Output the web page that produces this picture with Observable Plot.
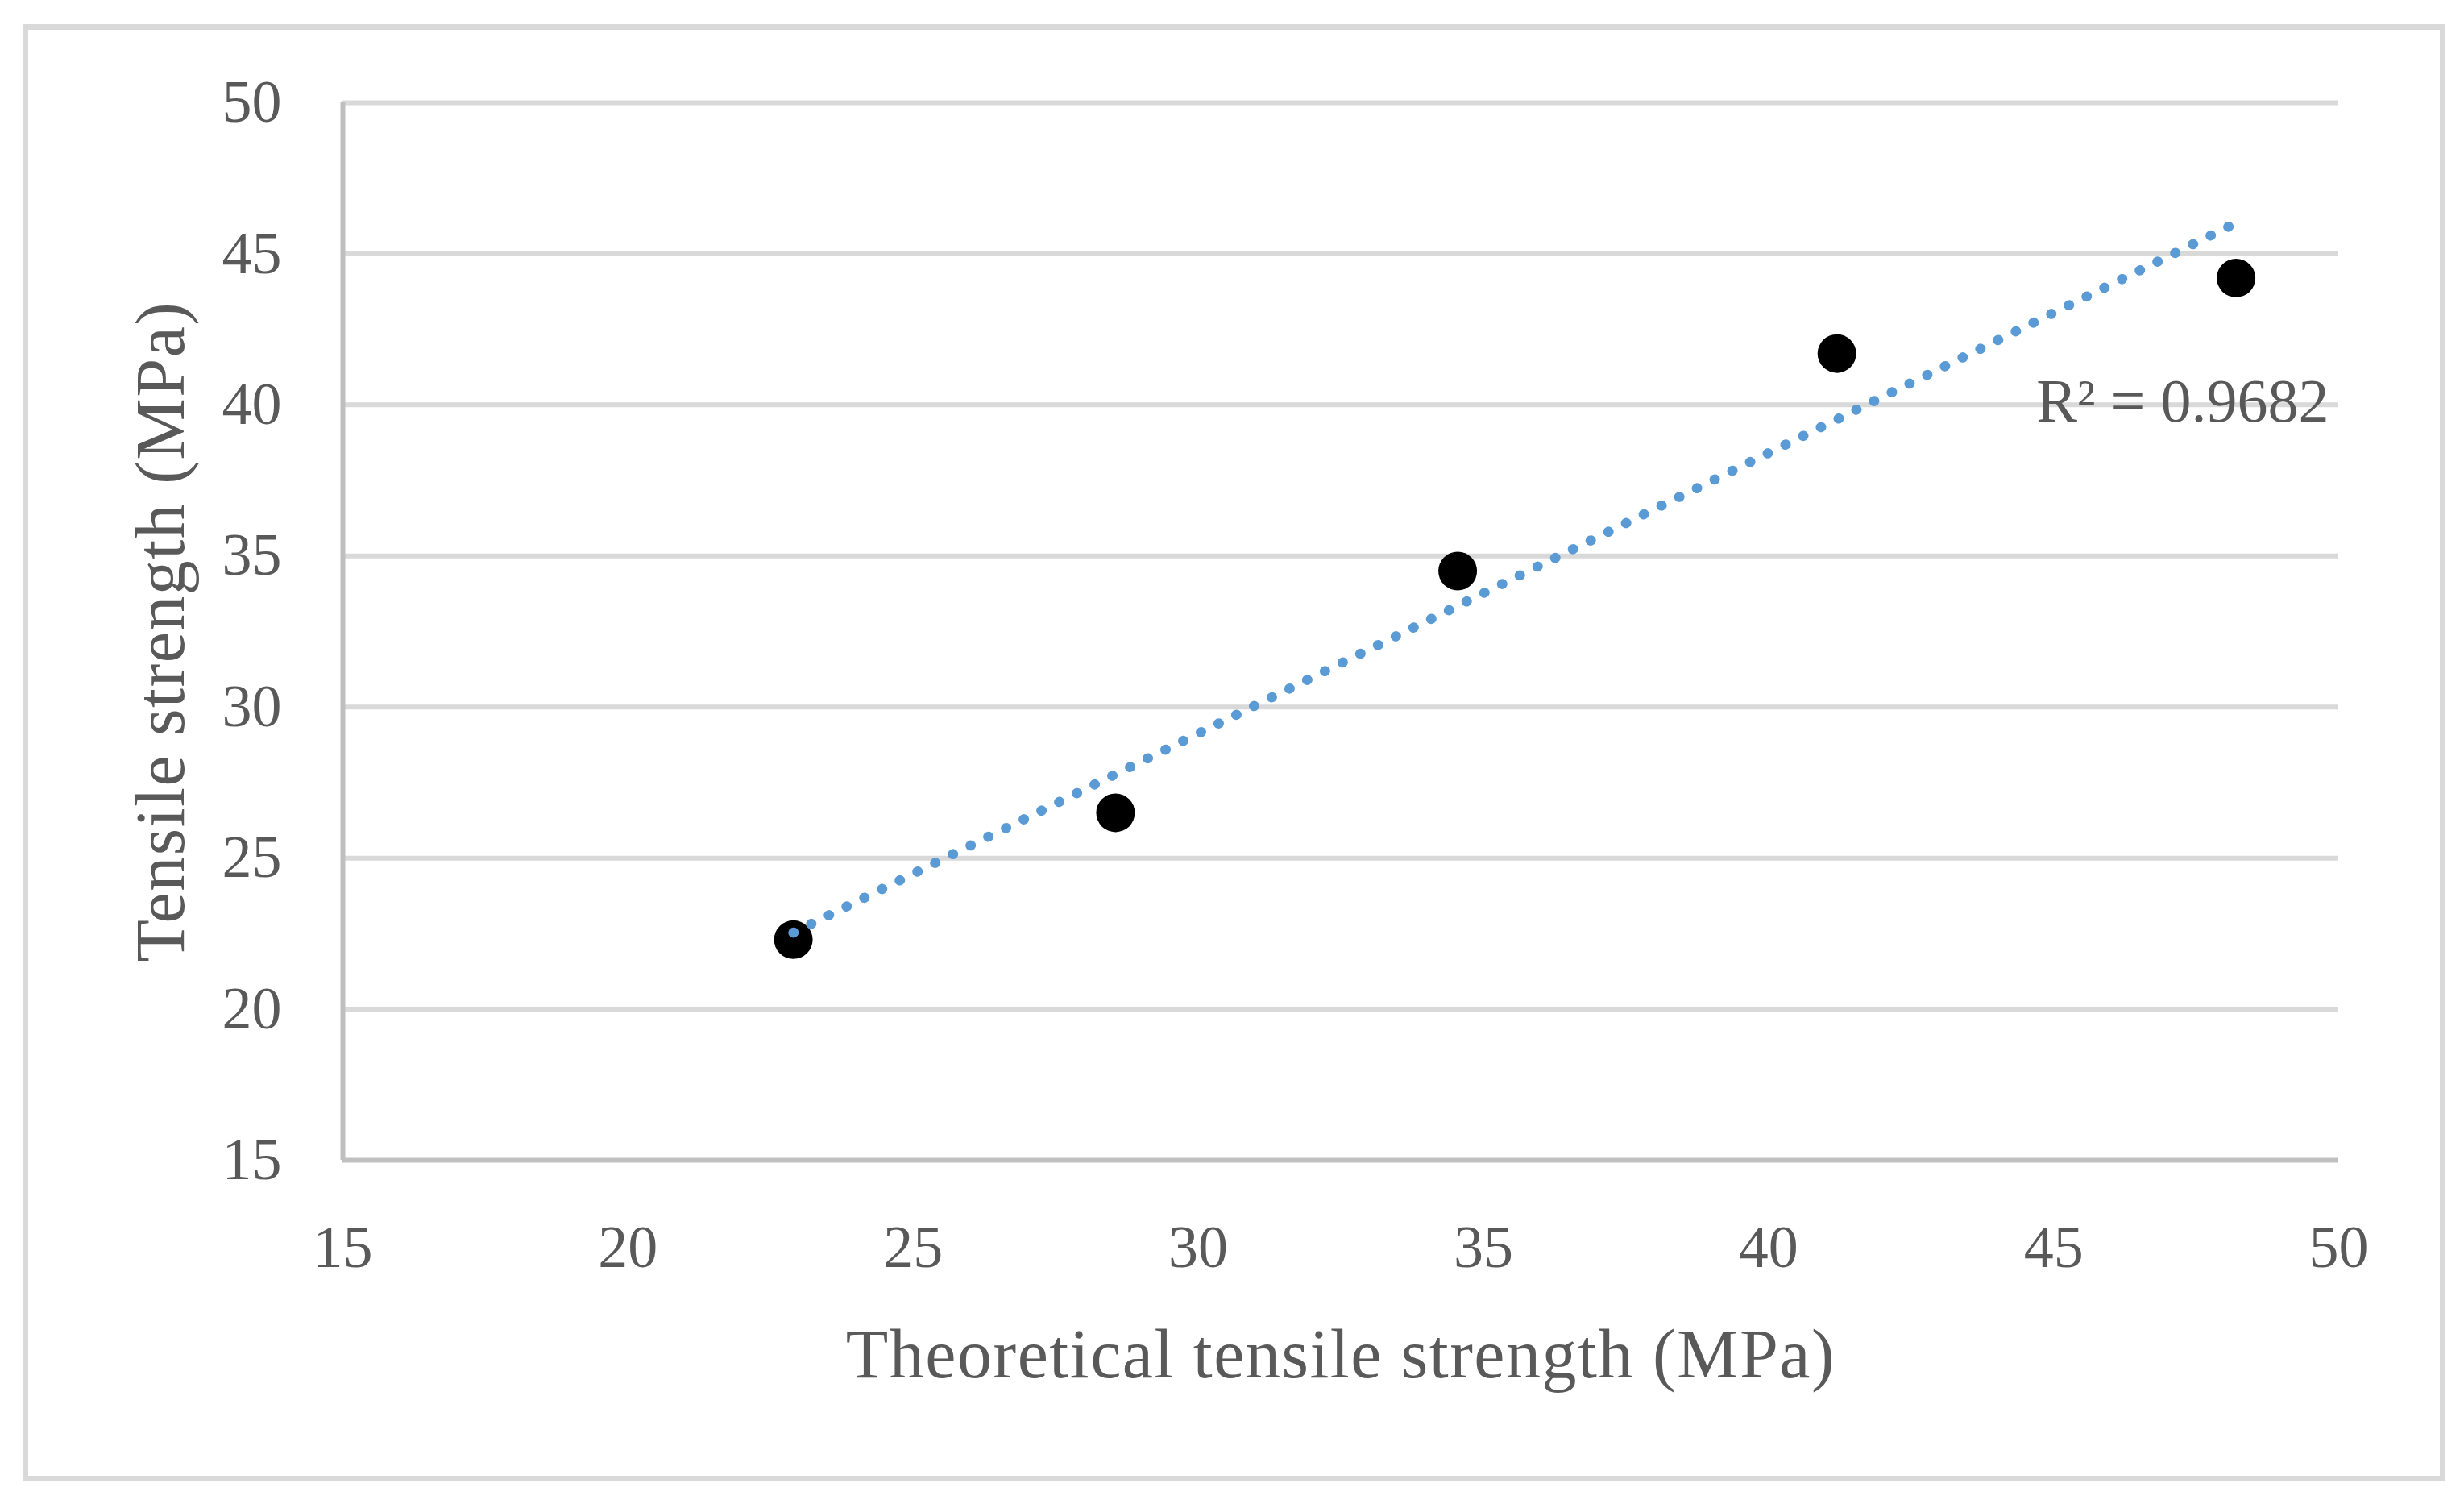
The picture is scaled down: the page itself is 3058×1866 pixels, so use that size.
<!DOCTYPE html>
<html>
<head>
<meta charset="utf-8">
<script src="https://cdn.jsdelivr.net/npm/d3@7"></script>
<script src="https://cdn.jsdelivr.net/npm/@observablehq/plot@0.6"></script>
<style>
  html, body { margin: 0; padding: 0; background: #ffffff; }
  #wrap { position: relative; width: 3058px; height: 1866px; }
  #border { position: absolute; left: 28px; top: 30px; width: 3007px; height: 1808px;
            border: 7px solid #d9d9d9; box-sizing: border-box; pointer-events: none; }
</style>
</head>
<body>
<div id="wrap"><div id="border"></div></div>
<script>
// Data
const theoretical = [22.9, 28.55, 34.55, 41.2, 48.2];   // Theoretical tensile strength (MPa)
const tensile     = [22.3, 26.5, 34.5, 41.7, 44.2];     // Tensile strength (MPa)
const xTicks = [15, 20, 25, 30, 35, 40, 45, 50];
const yTicks = [15, 20, 25, 30, 35, 40, 45, 50];
const xTitle = "Theoretical tensile strength (MPa)";
const yTitle = "Tensile strength (MPa)";
const r2Label = "R² = 0.9682";

const data = theoretical.map((x, i) => ({x, y: tensile[i]}));

const textColor = "#595959";
const font = "'Liberation Serif', 'Times New Roman', serif";

const chart = Plot.plot({
  width: 3058,
  height: 1866,
  marginLeft: 425,
  marginRight: 156,
  marginTop: 127,
  marginBottom: 427,
  style: {fontFamily: font, color: textColor, background: "transparent", overflow: "visible"},
  x: {domain: [15, 50]},
  y: {domain: [15, 50]},
  marks: [
    Plot.ruleY(yTicks.filter(d => d !== 15), {stroke: "#d9d9d9", strokeWidth: 6}),
    Plot.ruleY([15], {stroke: "#bfbfbf", strokeWidth: 6}),
    Plot.ruleX([15], {stroke: "#bfbfbf", strokeWidth: 6, y1: 15, y2: 50}),
    Plot.axisX({ticks: xTicks, tickSize: 0, tickPadding: 80, fontSize: 74, label: null, fill: textColor}),
    Plot.axisY({ticks: yTicks, tickSize: 0, tickPadding: 76, fontSize: 74, label: null, fill: textColor}),
    Plot.dot(data, {x: "x", y: "y", r: 24, fill: "#000000", stroke: null}),
    Plot.linearRegressionY(data, {x: "x", y: "y", ci: 0, stroke: "#5b9bd5", strokeWidth: 12.5,
      strokeDasharray: "0.5,24", strokeLinecap: "round", strokeOpacity: 1}),
    Plot.text([r2Label], {x: 49.83, y: 40.1, text: d => d, textAnchor: "end", fontSize: 76, fill: textColor}),
    Plot.text([xTitle], {frameAnchor: "bottom", dy: 242, text: d => d, fontSize: 86, fill: textColor,
      textAnchor: "middle", lineAnchor: "middle", className: "title"}),
    Plot.text([yTitle], {frameAnchor: "left", dx: -225, rotate: -90, text: d => d, fontSize: 86, fill: textColor,
      textAnchor: "middle", lineAnchor: "middle", className: "title"})
  ]
});
d3.select(chart).selectAll("g.title text").style("letter-spacing", "1.5px");
document.getElementById("wrap").prepend(chart);
</script>
</body>
</html>
